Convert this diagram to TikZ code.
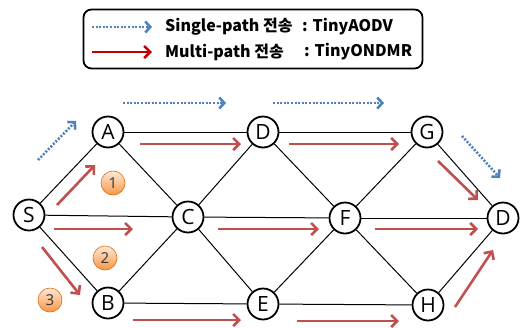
\documentclass[tikz,border=0pt]{standalone}
\usepackage{fontspec}
\setmainfont{Open Sans}
\newfontfamily\krfont{Noto Sans CJK KR}
\usetikzlibrary{arrows.meta}
\definecolor{redc}{HTML}{C0504D}
\definecolor{legred}{HTML}{C00000}
\definecolor{bluec}{HTML}{4F81BD}
\definecolor{orbord}{HTML}{E46C0A}
\definecolor{ortop}{HTML}{FDE9D9}
\definecolor{orbot}{HTML}{F79646}
\tikzset{
  vtx/.style={circle, draw, line width=1.8pt, minimum size=31pt, inner sep=0pt, fill=white,
    font=\fontsize{21}{21}\selectfont},
  link/.style={line width=1pt},
  redarr/.style={draw=redc, line width=2.6pt, -{Straight Barb[length=6pt,width=12pt]}},
  bluearr/.style={draw=bluec, line width=2.6pt, dash pattern=on 2pt off 1.6pt,
    -{Straight Barb[length=5pt,width=11pt]}},
  badge/.style={circle, draw=orbord, line width=0.6pt, top color=ortop, bottom color=orbot,
    minimum size=24pt, inner sep=0pt, font=\fontsize{15}{15}\selectfont, text=black!80},
  legtext/.style={anchor=west, inner sep=0pt, font=\krfont\bfseries\fontsize{16}{16}\selectfont}
}
\begin{document}
\begin{tikzpicture}[x=1pt,y=-1pt]
\useasboundingbox (0,0) rectangle (521,327);
% legend
\node[draw, line width=1.8pt, rounded corners=8pt, minimum width=339pt, minimum height=59pt] (legend) at (253,39) {};
\coordinate (lb1) at (92,27); \coordinate (lb2) at (152,27);
\coordinate (lr1) at (92,52); \coordinate (lr2) at (152,52);
\draw[bluearr] (lb1) -- (lb2);
\draw[draw=legred, line width=2.6pt, -{Straight Barb[length=6pt,width=12pt]}] (lr1) -- (lr2);
\node[legtext] (t1) at (165,27) {Single-path 전송};
\node[legtext] (c1) at (302,27) {: TinyAODV};
\node[legtext] (t2) at (165,52) {Multi-path 전송};
\node[legtext] (c2) at (304,52) {: TinyONDMR};
% nodes
\node[vtx] (S) at (29,215) {S};
\node[vtx] (A) at (108,132) {A};
\node[vtx] (Dt) at (263,132) {D};
\node[vtx] (G) at (427,132) {G};
\node[vtx] (C) at (188,217) {C};
\node[vtx] (F) at (345,218) {F};
\node[vtx] (Dr) at (503,218) {D};
\node[vtx] (B) at (108,303) {B};
\node[vtx] (E) at (263,304) {E};
\node[vtx] (H) at (428,305) {H};
% links
\foreach \a/\b in {S/A,S/C,S/B,A/Dt,A/C,B/C,B/E,C/Dt,C/E,C/F,Dt/G,Dt/F,E/F,E/H,F/G,F/H,F/Dr,G/Dr,H/Dr}
  \draw[link] (\a) -- (\b);
% blue arrows
\coordinate (b1s) at (38,160); \coordinate (b1e) at (76,121);
\coordinate (b2s) at (123,103); \coordinate (b2e) at (226,103);
\coordinate (b3s) at (273,103); \coordinate (b3e) at (384,103);
\coordinate (b4s) at (462,136); \coordinate (b4e) at (500,178);
\foreach \p in {1,2,3,4} \draw[bluearr] (b\p s) -- (b\p e);
% red arrows
\coordinate (r1s) at (57,205); \coordinate (r1e) at (95,165);
\coordinate (r2s) at (140,144); \coordinate (r2e) at (241,144);
\coordinate (r3s) at (289,144); \coordinate (r3e) at (399,144);
\coordinate (r4s) at (438,161); \coordinate (r4e) at (478,200);
\coordinate (r5s) at (54,229); \coordinate (r5e) at (133,229);
\coordinate (r6s) at (218,229); \coordinate (r6e) at (319,229);
\coordinate (r7s) at (375,229); \coordinate (r7e) at (478,229);
\coordinate (r8s) at (42,247); \coordinate (r8e) at (80,295);
\coordinate (r9s) at (133,320); \coordinate (r9e) at (241,320);
\coordinate (r10s) at (297,321); \coordinate (r10e) at (399,321);
\coordinate (r11s) at (455,307); \coordinate (r11e) at (493,250);
\foreach \p in {1,...,11} \draw[redarr] (r\p s) -- (r\p e);
% badges
\node[badge] (n1) at (113,183) {1};
\node[badge] (n2) at (105,258) {2};
\node[badge] (n3) at (50,300) {3};
\end{tikzpicture}
\end{document}
